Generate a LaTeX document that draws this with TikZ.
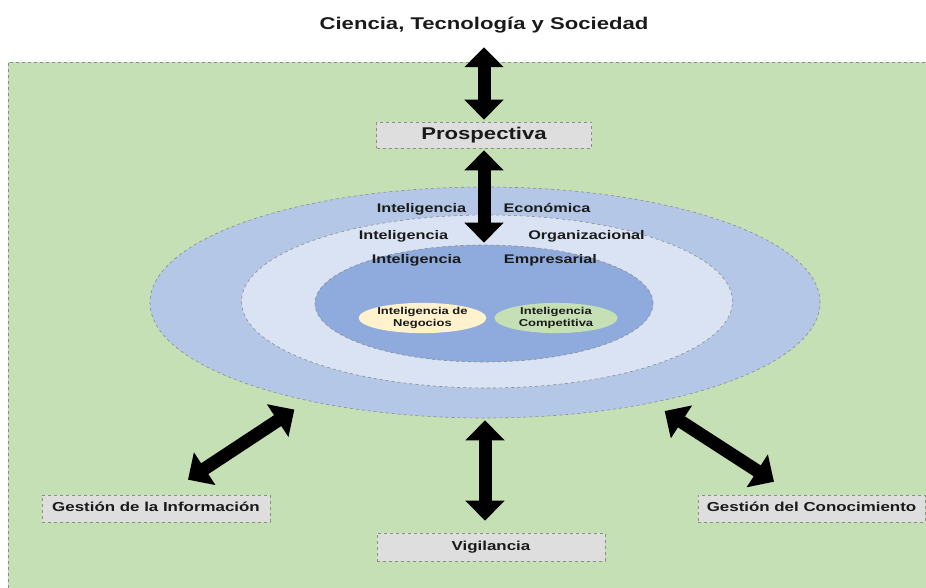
\documentclass[tikz,border=0pt]{standalone}
\usepackage{fontspec}
\setmainfont{Liberation Sans}[FakeStretch=1.3]
\usetikzlibrary{arrows.meta, positioning, shapes.geometric}
\definecolor{bggreen}{HTML}{C5E0B4}
\definecolor{ringout}{HTML}{B4C7E7}
\definecolor{ringmid}{HTML}{DAE3F3}
\definecolor{ringin}{HTML}{8FAADC}
\definecolor{boxgray}{HTML}{DEDEDE}
\definecolor{edgegray}{HTML}{8C8C8C}
\definecolor{cream}{HTML}{FFF2CC}
\definecolor{inkdark}{HTML}{1A1A1A}

\begin{document}
\begin{tikzpicture}[x=1pt, y=-1pt,
            labelbox/.style={rectangle, draw=edgegray, dashed, fill=boxgray, line width=0.6pt, minimum height=27pt, inner sep=0pt, text height=9.4pt, text depth=2.7pt, font=\bfseries\fontsize{13}{15}\selectfont, text=inkdark},
            ring/.style={ellipse, draw=edgegray, dashed, line width=0.6pt, inner sep=0pt},
            ringlabel/.style={inner sep=0pt, text height=9pt, text depth=0pt, font=\bfseries\fontsize{12.5}{14}\selectfont, text=inkdark},
            spot/.style={ellipse, inner sep=0pt, minimum width=123pt, minimum height=30pt, align=center, font=\bfseries\fontsize{10}{12}\selectfont, text=inkdark},
            bigarrow/.style={line width=13pt, {Triangle[length=20pt, width=38pt]}-{Triangle[length=20pt, width=38pt]}}]
            \useasboundingbox (0,0) rectangle (926,588);
            \fill[bggreen] (8,62) rectangle (926,588);
            \draw[edgegray, dashed, line width=0.6pt] (8,588) -- (8,62) -- (926,62);
            % nested rings
            \node[ring, fill=ringout, minimum width=670pt, minimum height=231pt] (econ) at (485,302.5) {};
            \node[ring, fill=ringmid, minimum width=491pt, minimum height=173pt] (orga) at (487,301.5) {};
            \node[ring, fill=ringin, minimum width=338pt, minimum height=117pt] (empr) at (484,303.5) {};
            \node[ringlabel] (econL) at (421.5,208) {Inteligencia};
            \node[ringlabel] (econR) at (547,208) {Económica};
            \node[ringlabel] (orgaL) at (403.5,235) {Inteligencia};
            \node[ringlabel] (orgaR) at (586.5,235) {Organizacional};
            \node[ringlabel] (emprL) at (416.5,259) {Inteligencia};
            \node[ringlabel] (emprR) at (550.5,259) {Empresarial};
            \node[spot, fill=cream] (negocios) at (422.5,318) {Inteligencia de\\Negocios};
            \node[spot, fill=bggreen] (competitiva) at (556,318) {Inteligencia\\Competitiva};
            % outer labels
            \node[anchor=base, inner sep=0pt, text depth=0pt, font=\bfseries\fontsize{17}{19}\selectfont, text=inkdark] (cts) at (484,30) {Ciencia, Tecnología y Sociedad};
            \node[labelbox, minimum width=215pt, minimum height=26pt, text height=12.2pt, text depth=3.6pt, font=\bfseries\fontsize{17}{19}\selectfont] (prosp) at (484,135) {Prospectiva};
            \node[labelbox, minimum width=228pt] (info) at (156,508.5) {Gestión de la Información};
            \node[labelbox, minimum width=227pt] (conoc) at (811.5,508.5) {Gestión del Conocimiento};
            \node[labelbox, minimum width=228pt, minimum height=28pt] (vigil) at (491,547) {Vigilancia};
            \coordinate (infoend) at ([xshift=32pt, yshift=15pt]info.north);
            \coordinate (conocend) at ([xshift=-37.5pt, yshift=13pt]conoc.north);
            % arrows
            \draw[bigarrow, shorten <=17pt, shorten >=2pt] (cts.south) -- (prosp.north);
            \draw[bigarrow, shorten <=2pt, shorten >=2pt] (prosp.south) -- (empr.north);
            \draw[bigarrow, shorten <=2pt, shorten >=12pt] (econ.south) -- (econ.south |- vigil.north);
            \draw[bigarrow, shorten >=16pt] (infoend) -- (econ.209);
            \draw[bigarrow, shorten >=15pt] (conocend) -- (econ.329);
        \end{tikzpicture}
\end{document}
